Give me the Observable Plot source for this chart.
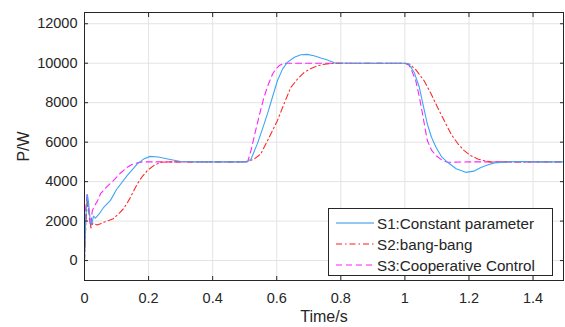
<!DOCTYPE html>
<html>
<head>
<meta charset="utf-8">
<script src="https://cdn.jsdelivr.net/npm/d3@7"></script>
<script src="https://cdn.jsdelivr.net/npm/@observablehq/plot@0.6"></script>
<style>
  html, body { margin: 0; padding: 0; background: #fff; }
  #wrap { position: relative; width: 565px; height: 327px; font-family: "Liberation Sans", Arial, sans-serif; }
  #legend { position: absolute; left: 328px; top: 208px; width: 223px; height: 66px; background: #fff;
            border: 1px solid #262626; font-size: 15.2px; color: #262626; }
  #legend .row { position: absolute; left: 0; height: 20px; display: flex; align-items: center; }
  #legend svg { margin-left: 7px; margin-right: 3px; }
</style>
</head>
<body>
<div id="wrap"></div>
<script>
// ---- data ----
const seriesNames = ["S1:Constant parameter", "S2:bang-bang", "S3:Cooperative Control"];

const s1Time = [0, 0.004, 0.009, 0.013, 0.018, 0.022, 0.028, 0.034, 0.045, 0.06, 0.081, 0.1, 0.133, 0.165, 0.185, 0.205, 0.23, 0.26, 0.3, 0.35, 0.4, 0.45, 0.508, 0.52, 0.539, 0.555, 0.571, 0.587, 0.602, 0.618, 0.633, 0.655, 0.675, 0.695, 0.716, 0.74, 0.758, 0.78, 0.82, 0.9, 1.0, 1.013, 1.03, 1.045, 1.058, 1.07, 1.083, 1.097, 1.115, 1.133, 1.16, 1.19, 1.215, 1.237, 1.26, 1.279, 1.32, 1.36, 1.4, 1.45, 1.495];
const s1Power = [0, 2200, 3350, 2900, 2000, 1800, 2250, 2150, 2350, 2700, 3050, 3600, 4300, 4900, 5150, 5280, 5250, 5150, 5020, 5000, 5000, 5000, 5000, 5150, 5900, 6650, 7430, 8300, 9110, 9700, 10040, 10300, 10430, 10450, 10380, 10250, 10160, 10020, 10000, 10000, 10000, 9950, 9500, 8780, 7800, 6920, 6250, 5740, 5250, 4980, 4650, 4470, 4530, 4720, 4850, 4950, 5000, 5020, 5000, 5000, 5000];

const s2Time = [0, 0.004, 0.009, 0.014, 0.02, 0.026, 0.04, 0.06, 0.09, 0.105, 0.122, 0.14, 0.165, 0.18, 0.196, 0.215, 0.237, 0.26, 0.28, 0.35, 0.5, 0.51, 0.53, 0.55, 0.575, 0.602, 0.623, 0.644, 0.665, 0.685, 0.705, 0.727, 0.75, 0.78, 0.9, 1.0, 1.015, 1.035, 1.06, 1.08, 1.102, 1.123, 1.144, 1.165, 1.185, 1.205, 1.227, 1.25, 1.27, 1.3, 1.495];
const s2Power = [0, 1800, 3000, 2500, 1650, 1900, 1800, 1940, 2120, 2350, 2630, 3100, 3890, 4250, 4560, 4800, 4980, 5000, 5000, 5000, 5000, 5020, 5150, 5400, 6200, 7090, 7950, 8775, 9200, 9530, 9720, 9870, 9950, 10000, 10000, 10000, 9950, 9650, 9110, 8500, 7760, 7080, 6410, 5930, 5570, 5320, 5150, 5050, 4990, 5000, 5000];

const s3Time = [0, 0.003, 0.008, 0.012, 0.016, 0.02, 0.024, 0.03, 0.04, 0.05, 0.07, 0.09, 0.11, 0.133, 0.15, 0.165, 0.18, 0.2, 0.3, 0.5, 0.51, 0.52, 0.534, 0.547, 0.56, 0.573, 0.587, 0.597, 0.607, 0.62, 0.635, 0.7, 1.0, 1.013, 1.022, 1.034, 1.045, 1.055, 1.063, 1.07, 1.083, 1.097, 1.115, 1.133, 1.2, 1.495];
const s3Power = [0, 2500, 3350, 2800, 2000, 1750, 2500, 2750, 3000, 3390, 3750, 4050, 4400, 4720, 4880, 4950, 5000, 5000, 5000, 5000, 5050, 5600, 6580, 7450, 8270, 8900, 9450, 9700, 9870, 9980, 10000, 10000, 10000, 9900, 9600, 9110, 8300, 7430, 6700, 6080, 5600, 5320, 5100, 4980, 5000, 5000];

const xTicks = [0, 0.2, 0.4, 0.6, 0.8, 1, 1.2, 1.4];
const yTicks = [0, 2000, 4000, 6000, 8000, 10000, 12000];

// ---- styles ----
const colors = ["#3fa6f2", "#ff2a2a", "#ff22ff"];
const legendColors = ["#2a8fe6", "#ff1a1a", "#ff1aff"];
const dashes = [null, "6,3,1.5,3", "6,4"];

const toRows = (ts, ps) => ts.map((t, i) => ({t, p: ps[i]}));
const s1 = toRows(s1Time, s1Power);
const s2 = toRows(s2Time, s2Power);
const s3 = toRows(s3Time, s3Power);

const axisColor = "#262626";
const blank = () => "";
const chart = Plot.plot({
  width: 565,
  height: 327,
  marginLeft: 84,
  marginRight: 2,
  marginTop: 12,
  marginBottom: 47,
  style: {fontFamily: '"Liberation Sans", Arial, sans-serif', fontSize: "14.5px", color: axisColor, background: "#fff"},
  x: {domain: [0, 1.495]},
  y: {domain: [-1010, 12570]},
  marks: [
    Plot.gridX(xTicks, {stroke: "#e3e3e3", strokeOpacity: 1}),
    Plot.gridY(yTicks, {stroke: "#e3e3e3", strokeOpacity: 1}),
    Plot.line(s3, {x: "t", y: "p", stroke: colors[2], strokeWidth: 1.1, strokeDasharray: dashes[2]}),
    Plot.line(s2, {x: "t", y: "p", stroke: colors[1], strokeWidth: 1.1, strokeDasharray: dashes[1]}),
    Plot.line(s1, {x: "t", y: "p", stroke: colors[0], strokeWidth: 1.1}),
    Plot.frame({stroke: axisColor, strokeWidth: 1}),
    Plot.axisX(xTicks, {anchor: "bottom", tickSize: -4, tickPadding: 16, stroke: axisColor,
      tickFormat: d => String(+d.toFixed(1)), label: null}),
    Plot.axisX({anchor: "bottom", ticks: [], label: "Time/s", labelAnchor: "center", labelArrow: "none", labelOffset: 41, fontSize: 16}),
    Plot.axisX(xTicks, {anchor: "top", tickSize: -4, tickFormat: blank, label: null, stroke: axisColor}),
    Plot.axisY(yTicks, {anchor: "left", tickSize: -4, tickPadding: 11, stroke: axisColor,
      tickFormat: d => String(d), label: null}),
    Plot.axisY({anchor: "left", ticks: [], label: "P/W", labelAnchor: "center", labelArrow: "none", labelOffset: 67, fontSize: 16}),
    Plot.axisY(yTicks, {anchor: "right", tickSize: -4, tickFormat: blank, label: null, stroke: axisColor})
  ]
});

const wrap = document.getElementById("wrap");
wrap.appendChild(chart);

// legend
const legend = document.createElement("div");
legend.id = "legend";
const rowTops = [4, 25, 46];
seriesNames.forEach((name, i) => {
  const row = document.createElement("div");
  row.className = "row";
  row.style.top = rowTops[i] + "px";
  const dash = dashes[i] ? ` stroke-dasharray="${dashes[i]}"` : "";
  row.innerHTML = `<svg width="38" height="4"><line x1="0" x2="38" y1="2" y2="2" stroke="${legendColors[i]}" stroke-width="1"${dash}/></svg><span>${name}</span>`;
  legend.appendChild(row);
});
wrap.appendChild(legend);
</script>
</body>
</html>
